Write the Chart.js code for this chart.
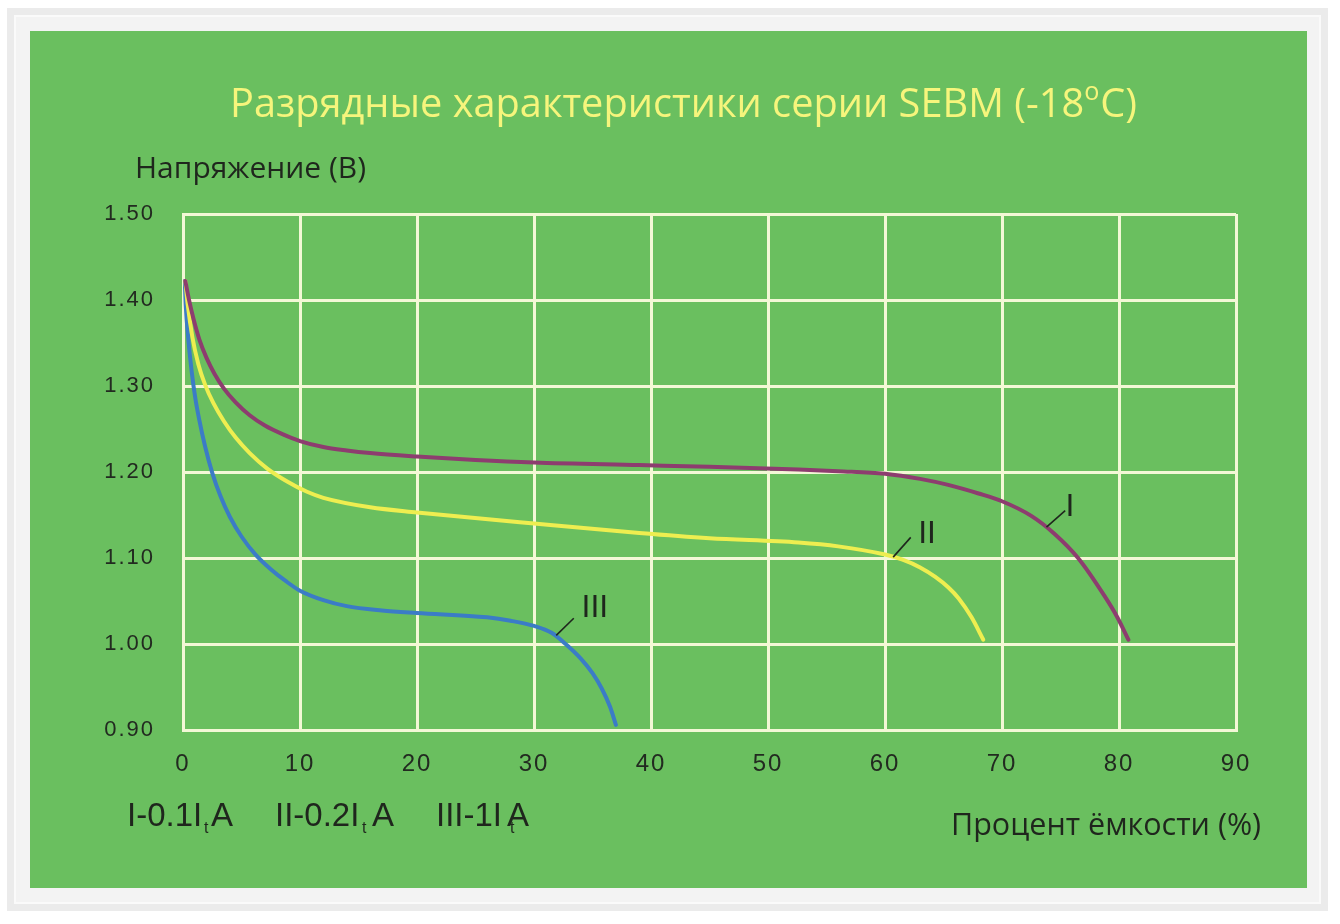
<!DOCTYPE html>
<html lang="ru">
<head>
<meta charset="utf-8">
<title>Разрядные характеристики серии SEBM</title>
<script src="https://cdn.jsdelivr.net/npm/chart.js@4.4.1/dist/chart.umd.min.js"></script>
<style>
  html, body { margin: 0; padding: 0; background: #ffffff; }
  #frame { position: absolute; left: 7px; top: 8px; width: 1321px; height: 903px; background: #ebebeb; }
  #inner { position: absolute; left: 9px; top: 9px; right: 9px; bottom: 9px; background: #f3f3f3; outline: 2px solid #fafafa; }
  #panel { position: absolute; left: 30px; top: 31px; width: 1277px; height: 857px; background: #6abf5f; }
  #chart { position: absolute; left: 0; top: 0; }
</style>
</head>
<body>
<div id="frame"><div id="inner"></div></div>
<div id="panel"></div>
<canvas id="chart" width="1340" height="924"></canvas>
<script>
// capacity (%) / voltage (V)
const capacityI  = [0.2, 0.5, 0.9, 1.4, 2.0, 2.7, 3.5, 4.5, 5.7, 7.0, 8.5, 10, 12, 14, 16, 20, 25, 30, 39, 45, 52.6, 56, 60, 63, 65.4, 68, 70, 72.5, 74.5, 76.5, 78.8, 79.9, 80.8]
const voltageI   = [1.422, 1.401, 1.378, 1.354, 1.333, 1.314, 1.297, 1.281, 1.266, 1.254, 1.244, 1.236, 1.229, 1.225, 1.222, 1.218, 1.214, 1.211, 1.208, 1.206, 1.203, 1.201, 1.198, 1.192, 1.185, 1.175, 1.166, 1.149, 1.128, 1.10, 1.055, 1.030, 1.005]

const capacityII = [0.2, 0.4, 0.8, 1.3, 1.9, 2.6, 3.5, 4.5, 5.7, 7.2, 8.9, 10.6, 12, 16, 20, 30, 39, 45, 52.6, 56, 60, 61.5, 63, 64.3, 65.4, 66.3, 67.4, 68.4]
const voltageII  = [1.422, 1.395, 1.357, 1.326, 1.301, 1.280, 1.259, 1.240, 1.222, 1.204, 1.189, 1.177, 1.170, 1.159, 1.153, 1.14, 1.129, 1.123, 1.118, 1.1135, 1.104, 1.098, 1.089, 1.078, 1.066, 1.053, 1.031, 1.005]

const capacityIII = [0.15, 0.23, 0.45, 0.75, 1.05, 1.4, 1.9, 2.5, 3.2, 4.0, 5.0, 6.2, 7.5, 8.8, 10, 12, 14, 17, 20, 26, 28, 30, 31.5, 32.7, 34, 35, 35.8, 36.5, 37]
const voltageIII  = [1.422, 1.395, 1.355, 1.316, 1.286, 1.26, 1.229, 1.199, 1.172, 1.148, 1.125, 1.104, 1.087, 1.073, 1.062, 1.051, 1.044, 1.039, 1.036, 1.031, 1.027, 1.021, 1.013, 1.00, 0.983, 0.966, 0.948, 0.927, 0.906]

const capacityTicks = [0, 10, 20, 30, 40, 50, 60, 70, 80, 90]
const voltageTicks  = [0.90, 1.00, 1.10, 1.20, 1.30, 1.40, 1.50]

const curveNames = ['I', 'II', 'III']

function points(xs, ys) {
  return xs.map((x, i) => ({ x: x, y: ys[i] }))
}

const gridColor = '#f3f8d6'
const inkColor = '#1f261d'

// where the little roman numerals sit (data coordinates)
const nameLeaders = [
  { from: [73.8, 1.136], to: [75.4, 1.155], text: [75.8, 1.159] },
  { from: [60.7, 1.101], to: [62.2, 1.124], text: [63.6, 1.128] },
  { from: [31.9, 1.010], to: [33.4, 1.030], text: [35.2, 1.042] }
]

const decorations = {
  id: 'decorations',
  beforeDraw(chart) {
    chart.ctx.letterSpacing = '2px'
  },
  beforeDatasetsDraw(chart) {
    chart.ctx.letterSpacing = '0px'
  },
  afterDatasetsDraw(chart) {
    const ctx = chart.ctx
    const xs = chart.scales.x
    const ys = chart.scales.y
    ctx.save()
    ctx.strokeStyle = inkColor
    ctx.lineWidth = 1.6
    ctx.fillStyle = inkColor
    ctx.font = '32px "Liberation Sans", Arial, sans-serif'
    ctx.textAlign = 'center'
    ctx.textBaseline = 'middle'
    nameLeaders.forEach((l, i) => {
      ctx.beginPath()
      ctx.moveTo(xs.getPixelForValue(l.from[0]), ys.getPixelForValue(l.from[1]))
      ctx.lineTo(xs.getPixelForValue(l.to[0]), ys.getPixelForValue(l.to[1]))
      ctx.stroke()
      ctx.fillText(curveNames[i], xs.getPixelForValue(l.text[0]), ys.getPixelForValue(l.text[1]))
    })
    ctx.restore()
  },
  afterDraw(chart) {
    const ctx = chart.ctx
    ctx.save()

    // title with superscript o
    const part1 = 'Разрядные характеристики серии SEBM (-18'
    const part2 = 'o'
    const part3 = 'C)'
    const big = '41px "Open Sans", sans-serif'
    const small = '26px "Open Sans", sans-serif'
    ctx.font = big
    const w1 = ctx.measureText(part1).width
    const w3 = ctx.measureText(part3).width
    ctx.font = small
    const w2 = ctx.measureText(part2).width + 1
    const total = w1 + w2 + w3
    const sx = 907 / total
    ctx.translate(230, 0)
    ctx.scale(sx, 1)
    ctx.fillStyle = '#f6f57c'
    ctx.textAlign = 'left'
    ctx.textBaseline = 'alphabetic'
    ctx.font = big
    ctx.fillText(part1, 0, 117)
    ctx.font = small
    ctx.fillText(part2, w1, 100)
    ctx.font = big
    ctx.fillText(part3, w1 + w2, 117)
    ctx.setTransform(1, 0, 0, 1, 0, 0)

    // axis titles
    ctx.fillStyle = inkColor
    ctx.font = '30px "Open Sans", sans-serif'
    ctx.fillText('Напряжение (В)', 135, 178)
    ctx.font = '30.5px "Open Sans", sans-serif'
    ctx.fillText('Процент ёмкости (%)', 951, 835)

    // current legend
    const main = '33px "Liberation Sans", Arial, sans-serif'
    const sub = '16px "Liberation Sans", Arial, sans-serif'
    const legend = [
      [main, 'I-0.1I', 127, 826], [sub, 't', 204, 833], [main, 'A', 211, 826],
      [main, 'II-0.2I', 275, 826], [sub, 't', 362, 833], [main, 'A', 372, 826],
      [main, 'III-1I', 436, 826], [main, 'A', 507, 826], [sub, 't', 510, 833]
    ]
    legend.forEach(([f, t, x, y]) => {
      ctx.font = f
      ctx.fillText(t, x, y)
    })
    ctx.restore()
  }
}

const ctx = document.getElementById('chart')

new Chart(ctx, {
  type: 'line',
  data: {
    datasets: [{
      label: 'I',
      data: points(capacityI, voltageI),
      borderColor: '#8d3d6f'
    }, {
      label: 'II',
      data: points(capacityII, voltageII),
      borderColor: '#eeee50'
    }, {
      label: 'III',
      data: points(capacityIII, voltageIII),
      borderColor: '#3b7cc6'
    }]
  },
  options: {
    responsive: false,
    animation: false,
    devicePixelRatio: 1,
    layout: {
      padding: { left: 0, top: 214, right: 104, bottom: 134 }
    },
    elements: {
      line: {
        borderWidth: 4,
        cubicInterpolationMode: 'monotone',
        borderCapStyle: 'round',
        borderJoinStyle: 'round',
        fill: false
      },
      point: { radius: 0, hoverRadius: 0 }
    },
    plugins: {
      legend: { display: false },
      tooltip: { enabled: false }
    },
    scales: {
      x: {
        type: 'linear',
        min: 0,
        max: 90,
        afterBuildTicks: (s) => { s.ticks = capacityTicks.map(v => ({ value: v })) },
        afterFit: (s) => { s.height = 60 },
        grid: { color: gridColor, lineWidth: 3, drawTicks: false },
        border: { color: gridColor, width: 3 },
        ticks: {
          padding: 20,
          color: '#222a20',
          font: { family: '"Liberation Sans", Arial, sans-serif', size: 24 },
          callback: (v) => String(v)
        }
      },
      y: {
        min: 0.9,
        max: 1.5,
        afterBuildTicks: (s) => { s.ticks = voltageTicks.map(v => ({ value: v })) },
        afterFit: (s) => { s.width = 183 },
        grid: { color: gridColor, lineWidth: 3, drawTicks: false },
        border: { color: gridColor, width: 3 },
        ticks: {
          padding: 28,
          color: '#222a20',
          font: { family: '"Liberation Sans", Arial, sans-serif', size: 22 },
          callback: (v) => Number(v).toFixed(2)
        }
      }
    }
  },
  plugins: [decorations]
})
</script>
</body>
</html>
